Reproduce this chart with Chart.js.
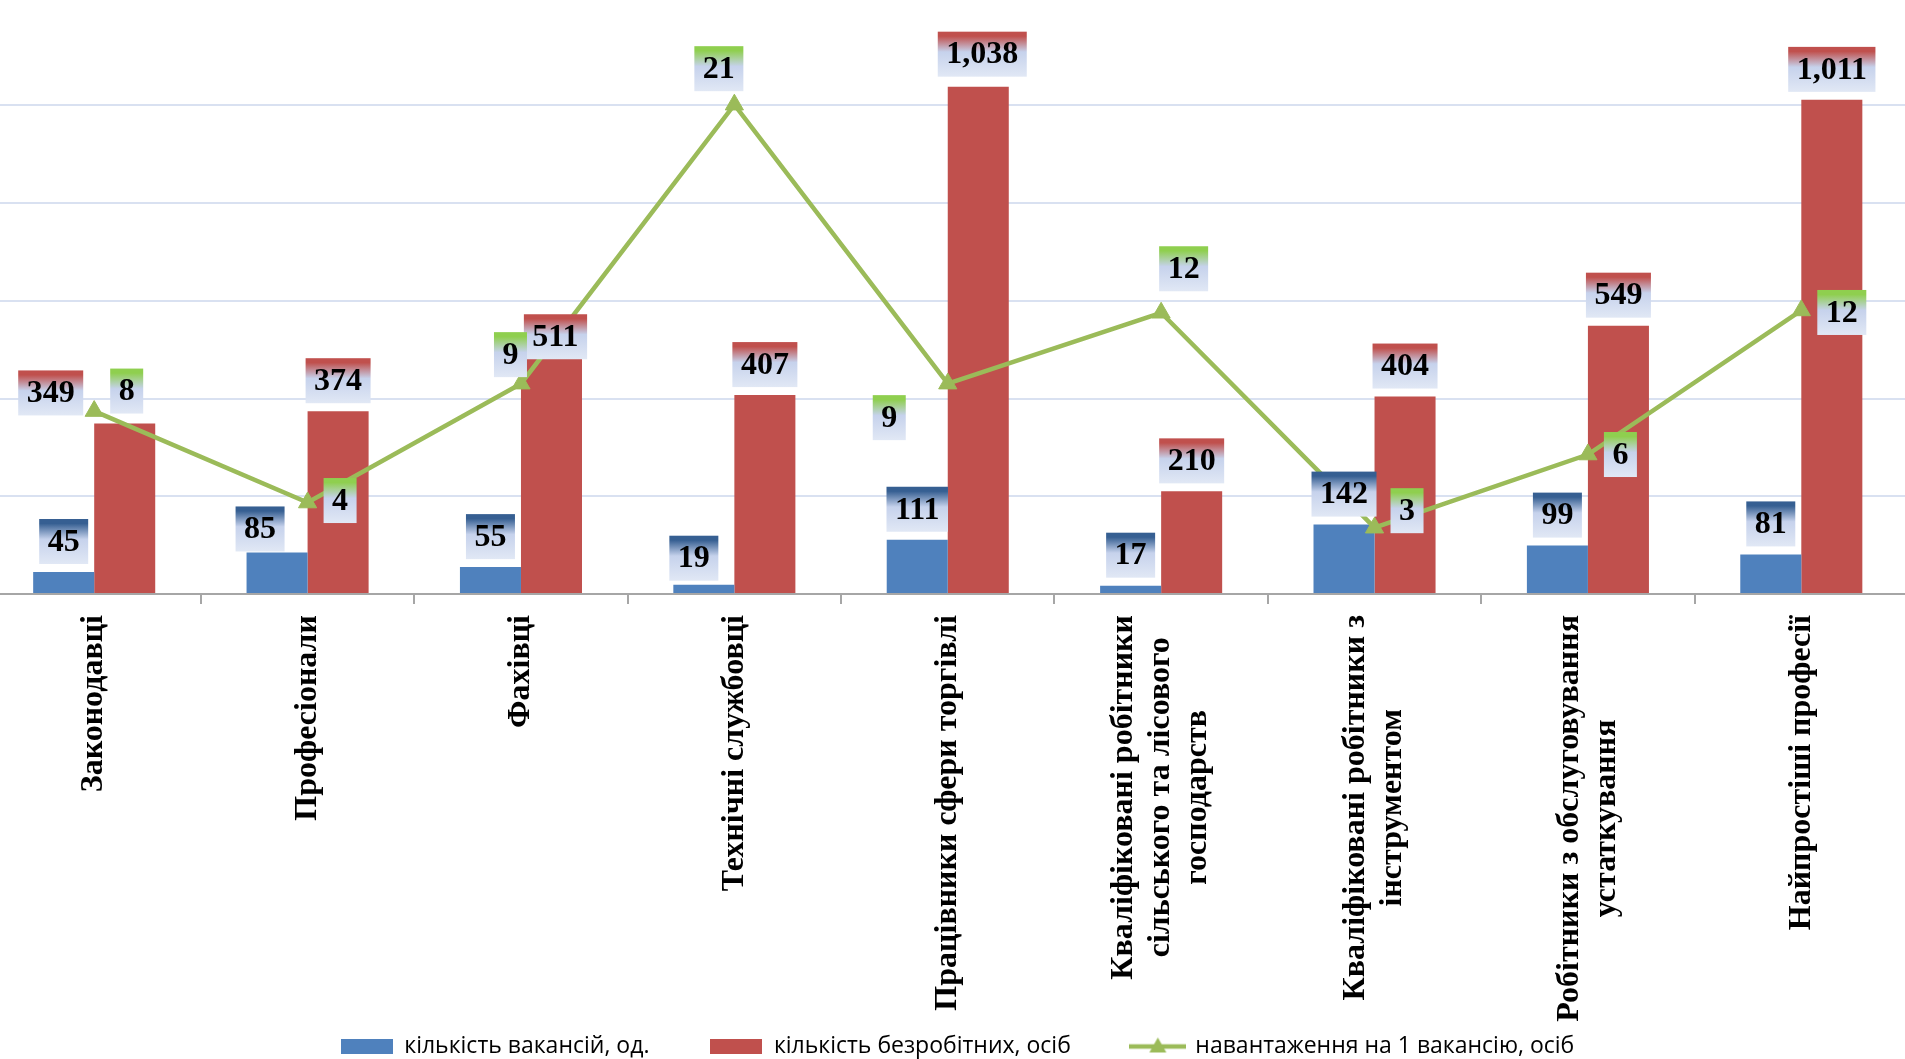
<!DOCTYPE html>
<html lang="uk">
<head>
<meta charset="utf-8">
<title>Вакансії та безробітні за професійними групами</title>
<script src="https://cdn.jsdelivr.net/npm/chart.js@4/dist/chart.umd.min.js"></script>
<style>
  html, body { margin: 0; padding: 0; background: #fff; overflow: hidden; }
  #wrap { position: absolute; left: -24px; top: -4px; width: 1963px; height: 1072px; }
</style>
</head>
<body>
<div id="wrap"><canvas id="combo-chart"></canvas></div>
<script>
// професійні групи (рядки підпису)
const categories = [
  ['Законодавці'],
  ['Професіонали'],
  ['Фахівці'],
  ['Технічні службовці'],
  ['Працівники сфери торгівлі'],
  ['Кваліфіковані робітники', 'сільського та лісового', 'господарств'],
  ['Кваліфіковані робітники з', 'інструментом'],
  ['Робітники з обслуговування', 'устаткування'],
  ['Найпростіші професії']
];
const vacancies = [45, 85, 55, 19, 111, 17, 142, 99, 81];
const unemployed = [349, 374, 511, 407, 1038, 210, 404, 549, 1011];
const loadPerVacancy = [8.0, 4.0, 9.2, 21.4, 9.2, 12.3, 2.9, 6.1, 12.4];

const seriesNames = ['кількість вакансій, од.', 'кількість безробітних, осіб', 'навантаження на 1 вакансію, осіб'];

const BLUE = '#4F81BD';
const RED = '#C0504D';
const GREEN = '#9BBB59';
const SERIF = '"Liberation Serif", "Times New Roman", serif';

// зсуви підписів, як їх пересунули вручну в Excel
const labelNudges = [
  [[0, 0], [-17, 7], [0, 0], [-10, 4], [0, 0], [0, 0], [0, 0], [0, 0], [0, 0]],
  [[-74, 0], [0, 0], [4, 23], [0, 0], [4, -2], [0, 0], [0, 0], [0, 0], [0, 0]],
  [[0, -20], [0, -2], [-43, -29], [-56, -36], [-91, 34], [-18, -44], [0, -17], [0, 0], [0, 2]]
];
const labelTops = ['#365f92', '#c0504d', '#8fcf4f'];

function fmt(v) {
  return Math.round(v).toLocaleString('en-US');
}

function legendIcon(kind, color) {
  const c = document.createElement('canvas');
  if (kind === 'box') {
    c.width = 52; c.height = 15;
    const g = c.getContext('2d');
    g.fillStyle = color;
    g.fillRect(0, 0, 52, 15);
  } else {
    c.width = 57; c.height = 22;
    const g = c.getContext('2d');
    g.strokeStyle = color;
    g.lineWidth = 4.5;
    g.beginPath(); g.moveTo(0, 11); g.lineTo(57, 11); g.stroke();
    g.fillStyle = color;
    g.beginPath(); g.moveTo(28.5, 2); g.lineTo(37, 17); g.lineTo(20, 17); g.closePath(); g.fill();
  }
  return c;
}
const legendIcons = [legendIcon('box', BLUE), legendIcon('box', RED), legendIcon('line', GREEN)];

const boxLabels = {
  id: 'boxLabels',
  afterDraw(chart) {
    const ctx = chart.ctx;
    ctx.save();
    ctx.font = 'bold 32px ' + SERIF;
    ctx.textAlign = 'center';
    ctx.textBaseline = 'middle';
    chart.data.datasets.forEach((ds, di) => {
      const meta = chart.getDatasetMeta(di);
      meta.data.forEach((el, i) => {
        const text = fmt(ds.data[i]);
        const w = ctx.measureText(text).width + 17;
        const h = 45;
        let cx, cy;
        if (meta.type === 'bar') {
          cx = el.x; cy = el.y - 8 - h / 2;
        } else {
          cx = el.x + 16 + w / 2; cy = el.y;
        }
        cx += labelNudges[di][i][0];
        cy += labelNudges[di][i][1];
        const x0 = cx - w / 2, y0 = cy - h / 2;
        const g = ctx.createLinearGradient(0, y0, 0, y0 + h);
        g.addColorStop(0, labelTops[di]);
        g.addColorStop(0.1, labelTops[di]);
        g.addColorStop(0.45, '#c6d2ec');
        g.addColorStop(1, '#e1e8f5');
        ctx.fillStyle = g;
        ctx.fillRect(x0, y0, w, h);
        ctx.fillStyle = '#000';
        ctx.fillText(text, cx, cy + 1);
      });
    });
    ctx.restore();
  }
};

const categoryText = {
  id: 'categoryText',
  afterDraw(chart) {
    const xs = chart.scales.x;
    const ctx = chart.ctx;
    ctx.save();
    ctx.font = 'bold 32px ' + SERIF;
    ctx.fillStyle = '#000';
    ctx.textAlign = 'center';
    ctx.textBaseline = 'middle';
    const top = xs.top + 21;
    categories.forEach((lines, i) => {
      const x = xs.getPixelForValue(i);
      const longest = Math.max(...lines.map(l => ctx.measureText(l).width));
      const mid = top + longest / 2;
      lines.forEach((line, j) => {
        const dx = (j - (lines.length - 1) / 2) * 37;
        ctx.save();
        ctx.translate(x + dx, mid);
        ctx.rotate(-Math.PI / 2);
        ctx.fillText(line, 0, 0);
        ctx.restore();
      });
    });
    ctx.restore();
  }
};

const ctx = document.getElementById('combo-chart');
new Chart(ctx, {
  type: 'bar',
  data: {
    labels: categories,
    datasets: [
      {
        label: seriesNames[0],
        data: vacancies,
        backgroundColor: BLUE,
        yAxisID: 'y',
        order: 1
      },
      {
        label: seriesNames[1],
        data: unemployed,
        backgroundColor: RED,
        yAxisID: 'y',
        order: 1
      },
      {
        type: 'line',
        label: seriesNames[2],
        data: loadPerVacancy,
        borderColor: GREEN,
        backgroundColor: GREEN,
        borderWidth: 4.5,
        pointStyle: 'triangle',
        pointRadius: 10.5,
        pointBorderWidth: 1,
        pointBackgroundColor: GREEN,
        pointBorderColor: GREEN,
        tension: 0,
        yAxisID: 'y2',
        order: 0
      }
    ]
  },
  options: {
    responsive: true,
    maintainAspectRatio: false,
    animation: false,
    categoryPercentage: 0.572,
    barPercentage: 1.0,
    layout: { padding: { top: 8, left: 0, right: 0, bottom: 0 } },
    scales: {
      x: {
        ticks: { display: false },
        grid: { drawOnChartArea: false, drawTicks: true, tickLength: 10, color: '#a6a6a6', lineWidth: 2 },
        border: { display: true, color: '#a6a6a6', width: 2 },
        afterFit: (s) => { s.height = 380; }
      },
      y: {
        min: 0,
        max: 1200,
        ticks: { display: false, stepSize: 200 },
        border: { display: false },
        grid: {
          drawTicks: false,
          lineWidth: 2,
          color: (c) => (c.tick && c.tick.value === 1200) ? 'rgba(0,0,0,0)' : '#d9e1f1'
        },
        afterFit: (s) => { s.width = 0; }
      },
      y2: {
        position: 'right',
        min: 0,
        max: 25.65,
        ticks: { display: false },
        border: { display: false },
        grid: { display: false },
        afterFit: (s) => { s.width = 31; }
      }
    },
    plugins: {
      tooltip: { enabled: false },
      legend: {
        position: 'bottom',
        labels: {
          usePointStyle: true,
          pointStyleWidth: 52,
          padding: 61,
          color: '#000',
          font: { family: '"Open Sans", "Noto Sans", sans-serif', size: 23 },
          generateLabels: (chart) => {
            const items = Chart.defaults.plugins.legend.labels.generateLabels(chart);
            items.sort((a, b) => a.datasetIndex - b.datasetIndex);
            items.forEach((it) => { it.pointStyle = legendIcons[it.datasetIndex]; });
            return items;
          }
        }
      }
    }
  },
  plugins: [boxLabels, categoryText]
});
</script>
</body>
</html>
